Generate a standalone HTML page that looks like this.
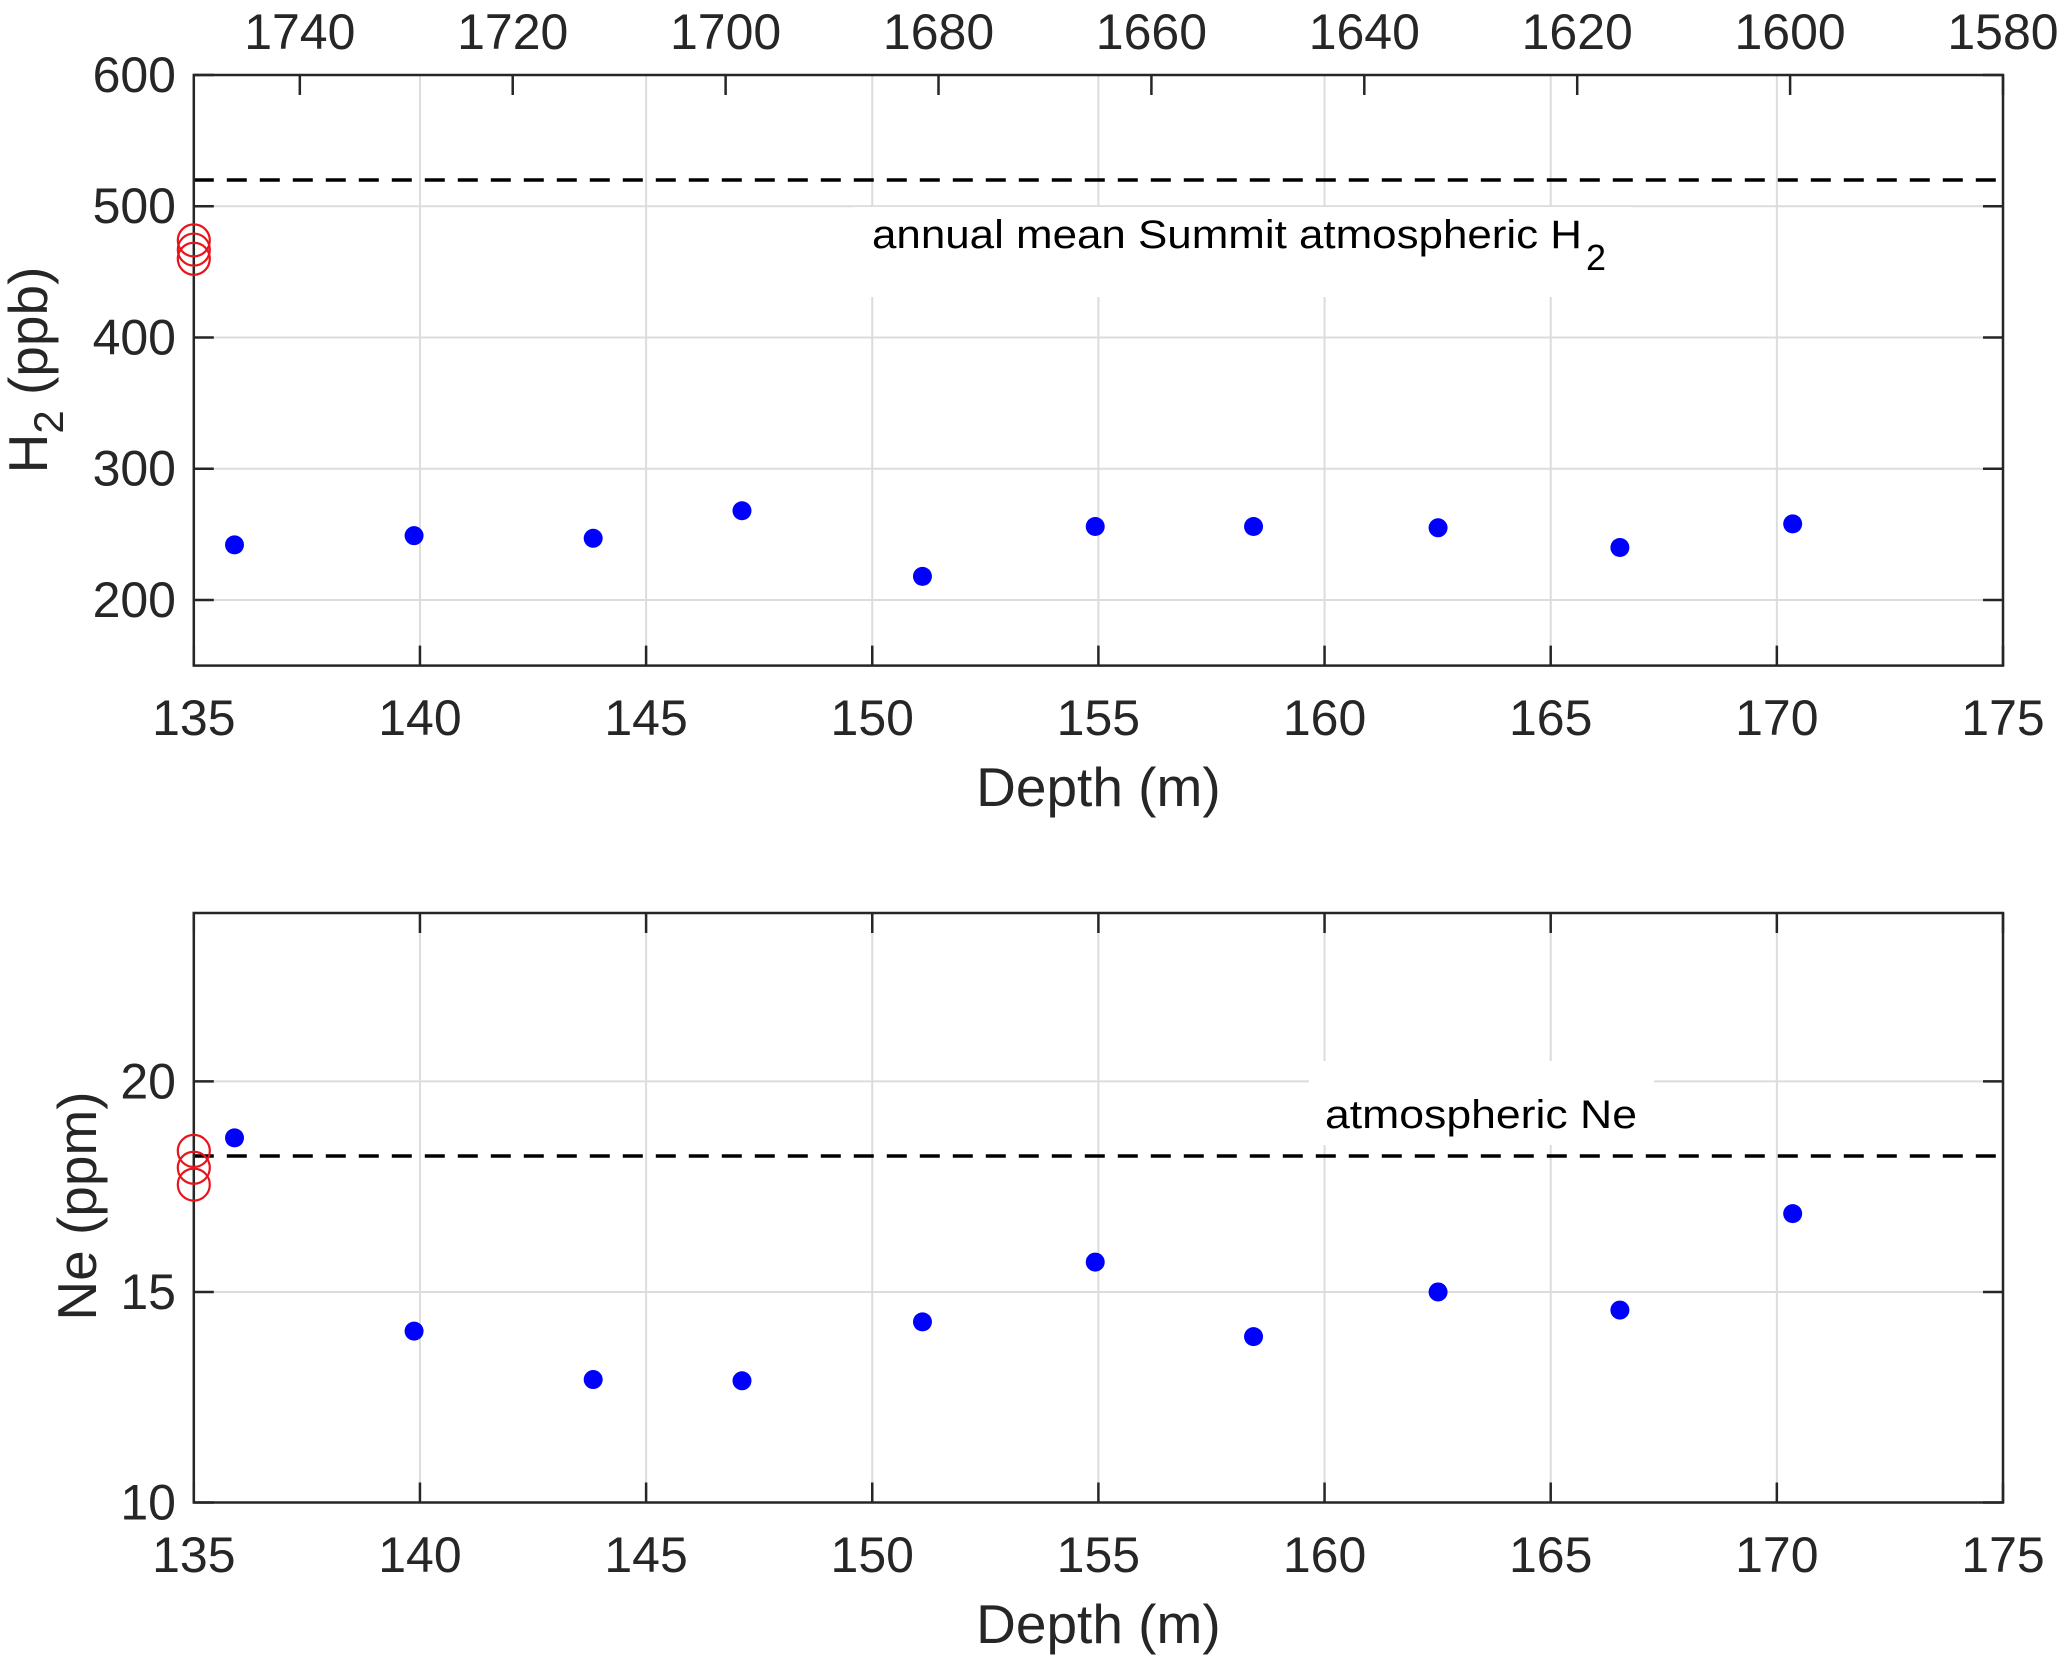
<!DOCTYPE html>
<html><head><meta charset="utf-8"><style>
html,body{margin:0;padding:0;background:#fff;}
svg{display:block;font-family:"Liberation Sans",Arial,sans-serif;}
</style></head><body>
<svg id="chart" width="2067" height="1664" viewBox="0 0 2067 1664" xmlns="http://www.w3.org/2000/svg"></svg>
<script>
const depths = [135.9, 139.87, 143.83, 147.12, 151.11, 154.93, 158.43, 162.51, 166.53, 170.35];
const h2Values = [242, 249, 247, 268, 218, 256, 256, 255, 240, 258];
const neValues = [18.66, 14.07, 12.92, 12.89, 14.29, 15.71, 13.94, 15.0, 14.57, 16.86];
const h2Atm = [474, 467, 460];
const neAtm = [18.35, 17.95, 17.55];
const h2Line = 520;
const neLine = 18.23;
const depthTicks = [135, 140, 145, 150, 155, 160, 165, 170, 175];
const yearTicks = [1740, 1720, 1700, 1680, 1660, 1640, 1620, 1600, 1580];
const h2Ticks = [200, 300, 400, 500, 600];
const neTicks = [10, 15, 20];

const NS = "http://www.w3.org/2000/svg";
const svg = document.getElementById('chart');
function mk(tag, attrs, parent) {
  const e = document.createElementNS(NS, tag);
  for (const k in attrs) e.setAttribute(k, attrs[k]);
  (parent || svg).appendChild(e);
  return e;
}
const L = 193.8, R = 2003;
function xD(d) { return L + (d - 135) / 40 * (R - L); }
function xY(y) { return xD(175 - (y - 1580) / 20 * 4.707); }

const C = '#262626', G = '#dcdcdc';
const TF = 50;
const panels = [
  {name:'h2', top:75, bot:665.6, ymin:150, ymax:600, ticks:h2Ticks, vals:h2Values, atm:h2Atm, line:h2Line,
   label:{x:854,y:207,w:778,h:90,tx:872,ty:248,text:'annual mean Summit atmospheric H',sub:'2',tl:710}, xtY:718, dtY:787},
  {name:'ne', top:913, bot:1502.5, ymin:10, ymax:24, ticks:neTicks, vals:neValues, atm:neAtm, line:neLine,
   label:{x:1309,y:1061,w:345,h:84,tx:1325,ty:1128,text:'atmospheric Ne',sub:'',tl:312}, xtY:1555, dtY:1624}
];
panels.forEach(p => {
  const g = mk('g', {});
  
  
  const yS = v => p.bot - (v - p.ymin) / (p.ymax - p.ymin) * (p.bot - p.top);
  depthTicks.forEach(d => {
    const l = mk('line', {x1:xD(d), x2:xD(d), y1:p.top, y2:p.bot, stroke:G, 'stroke-width':2}, g);
    
    
  });
  p.ticks.forEach(v => {
    const l = mk('line', {x1:L, x2:R, y1:yS(v), y2:yS(v), stroke:G, 'stroke-width':2}, g);
    
    
  });
  const lb = p.label;
  const box = mk('rect', {x:lb.x, y:lb.y, width:lb.w, height:lb.h, fill:'#fff'}, g);
  
  
  const dl = mk('line', {x1:L, x2:R, y1:yS(p.line), y2:yS(p.line), stroke:'#000', 'stroke-width':3.5, 'stroke-dasharray':'20 13'}, g);
  
  
  const t = mk('text', {x:lb.tx, y:lb.ty, 'font-size':40, fill:'#000', textLength:lb.tl, lengthAdjust:'spacingAndGlyphs'}, g);
  t.textContent = lb.text;
  
  
  if (lb.sub) {
    const s = mk('text', {x:lb.tx + lb.tl + 4, y:lb.ty + 22, 'font-size':36, fill:'#000'}, g);
    s.textContent = lb.sub;
    
    
  }
  const fr = mk('rect', {x:L, y:p.top, width:R - L, height:p.bot - p.top, fill:'none', stroke:C, 'stroke-width':2.5}, g);
  
  
  depthTicks.forEach(d => {
    const tk = mk('line', {x1:xD(d), x2:xD(d), y1:p.bot, y2:p.bot - 20, stroke:C, 'stroke-width':2.5}, g);
    
    
    if (p.name === 'ne') {
      const tk2 = mk('line', {x1:xD(d), x2:xD(d), y1:p.top, y2:p.top + 20, stroke:C, 'stroke-width':2.5}, g);
      
      
    }
    const tl = mk('text', {x:xD(d), y:p.xtY + 17, 'font-size':TF, fill:C, 'text-anchor':'middle'}, g);
    tl.textContent = d;
    
    
  });
  p.ticks.forEach(v => {
    const a = mk('line', {x1:L, x2:L + 20, y1:yS(v), y2:yS(v), stroke:C, 'stroke-width':2.5}, g);
    
    
    const b = mk('line', {x1:R, x2:R - 20, y1:yS(v), y2:yS(v), stroke:C, 'stroke-width':2.5}, g);
    
    
    const tl = mk('text', {x:176, y:yS(v) + 17, 'font-size':TF, fill:C, 'text-anchor':'end'}, g);
    tl.textContent = v;
    
    
  });
  const xt = mk('text', {x:(L + R) / 2, y:p.dtY + 19, 'font-size':55, fill:C, 'text-anchor':'middle'}, g);
  xt.textContent = 'Depth (m)';
  
  
  depths.forEach((d, i) => {
    const c = mk('circle', {cx:xD(d), cy:yS(p.vals[i]), r:9.5, fill:'#0000ff'}, g);
    
    
  });
  p.atm.forEach(v => {
    const c = mk('circle', {cx:L, cy:yS(v), r:16, fill:'none', stroke:'#e8141c', 'stroke-width':2.2}, g);
    
    
  });
});
yearTicks.forEach(y => {
  const tk = mk('line', {x1:xY(y), x2:xY(y), y1:75, y2:95, stroke:C, 'stroke-width':2.5});
  
  
  const tl = mk('text', {x:xY(y), y:49, 'font-size':TF, fill:C, 'text-anchor':'middle'});
  tl.textContent = y;
  
  
});
const yt1 = mk('text', {transform:'translate(47,370) rotate(-90)', 'font-size':55, fill:C, 'text-anchor':'middle'});
yt1.innerHTML = 'H<tspan font-size="42" dy="16">2</tspan><tspan dy="-16"> (ppb)</tspan>';


const yt2 = mk('text', {transform:'translate(96,1206) rotate(-90)', 'font-size':55, fill:C, 'text-anchor':'middle'});
yt2.textContent = 'Ne (ppm)';


</script>
</body></html>
